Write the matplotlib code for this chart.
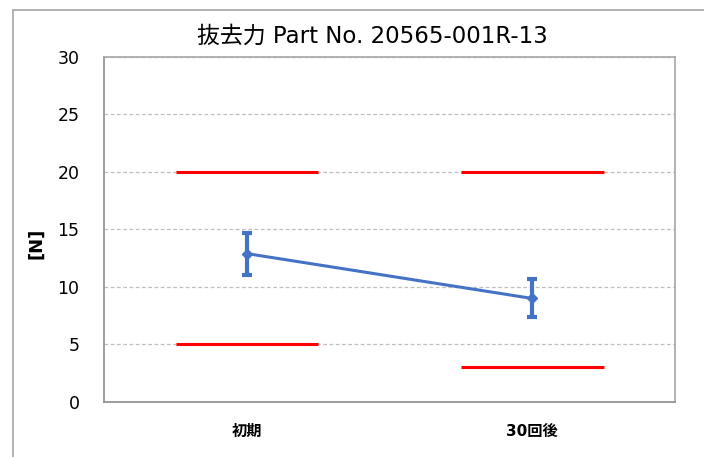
import numpy as np
import matplotlib.pyplot as plt
from matplotlib.patches import Rectangle

plt.rcParams['font.family'] = ['DejaVu Sans', 'Noto Sans CJK JP']

categories = ['初期', '30回後']
means = [12.9, 9.0]
err_low = [11.0, 7.4]
err_high = [14.7, 10.7]
upper_limit = [20, 20]
lower_limit = [5, 3]

blue = '#4472C4'

fig = plt.figure(figsize=(7.04, 4.57), dpi=100)
ax = fig.add_axes([0.1484, 0.1204, 0.8104, 0.7549])

x = np.arange(len(categories))
m = np.array(means)
yerr = [m - np.array(err_low), np.array(err_high) - m]

# limit lines
for xi, up, lo in zip(x, upper_limit, lower_limit):
    ax.plot([xi - 0.25, xi + 0.25], [up, up], color='red', lw=2.2, solid_capstyle='butt', zorder=3)
    ax.plot([xi - 0.25, xi + 0.25], [lo, lo], color='red', lw=2.2, solid_capstyle='butt', zorder=3)

ax.errorbar(x, m, yerr=yerr, color=blue, lw=2.2, marker='D', ms=5,
            elinewidth=3, capsize=3.3, capthick=3, zorder=4)

ax.set_xlim(-0.5, 1.5)
ax.set_ylim(0, 30)
ax.set_yticks(range(0, 31, 5))
ax.set_xticks(x)
ax.set_xticklabels(categories, fontsize=11, fontweight='bold')
ax.tick_params(axis='x', length=0, pad=16)
ax.tick_params(axis='y', length=0, labelsize=12.5, pad=18)

ax.grid(axis='y', color='#bfbfbf', ls=(0, (3, 2)), lw=0.9)
ax.set_axisbelow(True)
for s in ax.spines.values():
    s.set_color('#a6a6a6')
    s.set_linewidth(1.2)
ax.spines['left'].set_color('#8c8c8c')
ax.spines['bottom'].set_color('#8c8c8c')

fig.text(36 / 704, 1 - 243 / 457, '[N]', rotation=90, fontsize=13, fontweight='bold',
         ha='center', va='center')
fig.text(372 / 704, 1 - 36 / 457, '抜去力 Part No. 20565-001R-13', fontsize=16.5,
         ha='center', va='center')

# outer chart frame (partially visible)
fig.patches.append(Rectangle((13 / 704, -0.1), 1.1, 1 - 10 / 457 + 0.1,
                             transform=fig.transFigure, fill=False,
                             edgecolor='#a6a6a6', lw=1.2))

fig.savefig('out.png', dpi=100)
